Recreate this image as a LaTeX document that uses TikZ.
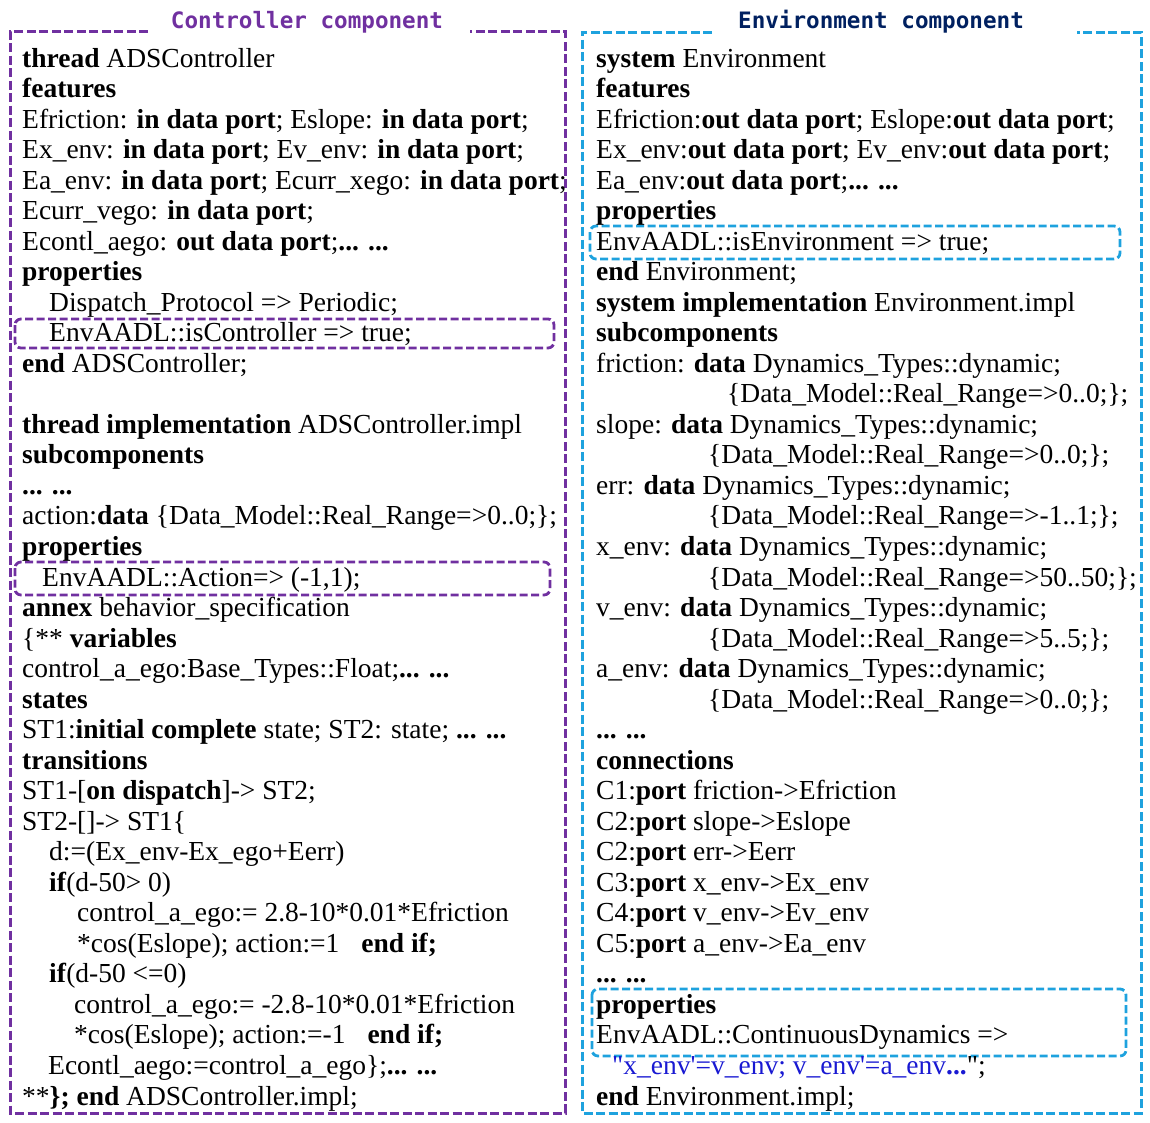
\documentclass[tikz,border=0pt]{standalone}
\usepackage{fontspec}
\setmainfont{Liberation Serif}[Ligatures=TeXOff]
\newfontfamily\titlefont{DejaVu Sans Mono}
\definecolor{cpurple}{RGB}{112,48,160}
\definecolor{cblue}{RGB}{30,162,222}
\definecolor{cnavy}{RGB}{0,32,96}
\definecolor{ctext}{RGB}{25,25,210}
\tikzset{
  code/.style={font=\fontsize{27.5}{30.6}\selectfont, inner sep=0pt, anchor=base west},
  ttl/.style={font=\titlefont\bfseries\fontsize{22.6}{26}\selectfont, inner sep=0pt, anchor=base},
  outerbox/.style={line width=3pt, dash pattern=on 9pt off 3.5pt},
  hibox/.style={line width=2.8pt, dash pattern=on 8pt off 3.5pt, rounded corners=6pt},
}
\newcommand\LY[1]{{67+30.53*(#1-1)}}
\begin{document}
\begin{tikzpicture}[x=1pt,y=-1pt]
\useasboundingbox (0,0) rectangle (1150,1122);
% outer boxes
\draw[outerbox, cpurple] (148,31) -- (10,31) -- (10,1113) -- (565,1113) -- (565,31) -- (470,31);
\draw[outerbox, cblue] (712,32) -- (582,32) -- (582,1113) -- (1141,1113) -- (1141,32) -- (1077,32);
% titles
\node[ttl, text=cpurple] (ctitle) at (307,28) {Controller component};
\node[ttl, text=cnavy] (etitle) at (881,28) {Environment component};
% highlight boxes
\draw[hibox, cpurple] (15,319) rectangle (554,348);
\draw[hibox, cpurple] (15,562) rectangle (550,595);
\draw[hibox, cblue] (590,226) rectangle (1120,259);
\draw[hibox, cblue] (592,989) rectangle (1126,1056);
% left column
\node[code] (l1) at (22,\LY{1}) {\textbf{thread} ADSController};
\node[code] (l2) at (22,\LY{2}) {\textbf{features}};
\node[code] (l3) at (22,\LY{3}) {Efriction: \textbf{in data port}; Eslope: \textbf{in data port};};
\node[code] (l4) at (22,\LY{4}) {Ex\_env: \textbf{in data port}; Ev\_env: \textbf{in data port};};
\node[code] (l5) at (22,\LY{5}) {Ea\_env: \textbf{in data port}; Ecurr\_xego: \textbf{in data port};};
\node[code] (l6) at (22,\LY{6}) {Ecurr\_vego: \textbf{in data port};};
\node[code] (l7) at (22,\LY{7}) {Econtl\_aego: \textbf{out data port};\textbf{... ...}};
\node[code] (l8) at (22,\LY{8}) {\textbf{properties}};
\node[code] (l9) at (49,\LY{9}) {Dispatch\_Protocol => Periodic;};
\node[code] (l10) at (49,\LY{10}) {EnvAADL::isController => true;};
\node[code] (l11) at (22,\LY{11}) {\textbf{end} ADSController;};
\node[code] (l13) at (22,\LY{13}) {\textbf{thread implementation} ADSController.impl};
\node[code] (l14) at (22,\LY{14}) {\textbf{subcomponents}};
\node[code] (l15) at (22,\LY{15}) {\textbf{... ...}};
\node[code] (l16) at (22,\LY{16}) {action:\textbf{data} \{Data\_Model::Real\_Range=>0..0;\};};
\node[code] (l17) at (22,\LY{17}) {\textbf{properties}};
\node[code] (l18) at (42,\LY{18}) {EnvAADL::Action=> (-1,1);};
\node[code] (l19) at (22,\LY{19}) {\textbf{annex} behavior\_specification};
\node[code] (l20) at (22,\LY{20}) {\{** \textbf{variables}};
\node[code] (l21) at (22,\LY{21}) {control\_a\_ego:Base\_Types::Float;\textbf{... ...}};
\node[code] (l22) at (22,\LY{22}) {\textbf{states}};
\node[code] (l23) at (22,\LY{23}) {ST1:\textbf{initial complete} state; ST2: state; \textbf{... ...}};
\node[code] (l24) at (22,\LY{24}) {\textbf{transitions}};
\node[code] (l25) at (22,\LY{25}) {ST1-[\textbf{on dispatch}]-> ST2;};
\node[code] (l26) at (22,\LY{26}) {ST2-[]-> ST1\{};
\node[code] (l27) at (49,\LY{27}) {d:=(Ex\_env-Ex\_ego+Eerr)};
\node[code] (l28) at (49,\LY{28}) {\textbf{if}(d-50> 0)};
\node[code] (l29) at (77,\LY{29}) {control\_a\_ego:= 2.8-10*0.01*Efriction};
\node[code] (l30) at (77,\LY{30}) {*cos(Eslope); action:=1\hspace{22pt}\textbf{end if;}};
\node[code] (l31) at (49,\LY{31}) {\textbf{if}(d-50 <=0)};
\node[code] (l32) at (74,\LY{32}) {control\_a\_ego:= -2.8-10*0.01*Efriction};
\node[code] (l33) at (74,\LY{33}) {*cos(Eslope); action:=-1\hspace{22pt}\textbf{end if;}};
\node[code] (l34) at (48,\LY{34}) {Econtl\_aego:=control\_a\_ego\};\textbf{... ...}};
\node[code] (l35) at (22,\LY{35}) {**\textbf{\};} \textbf{end} ADSController.impl;};
% right column
\node[code] (r1) at (596,\LY{1}) {\textbf{system} Environment};
\node[code] (r2) at (596,\LY{2}) {\textbf{features}};
\node[code] (r3) at (596,\LY{3}) {Efriction:\textbf{out data port}; Eslope:\textbf{out data port};};
\node[code] (r4) at (596,\LY{4}) {Ex\_env:\textbf{out data port}; Ev\_env:\textbf{out data port};};
\node[code] (r5) at (596,\LY{5}) {Ea\_env:\textbf{out data port};\textbf{... ...}};
\node[code] (r6) at (596,\LY{6}) {\textbf{properties}};
\node[code] (r7) at (596,\LY{7}) {EnvAADL::isEnvironment => true;};
\node[code] (r8) at (596,\LY{8}) {\textbf{end} Environment;};
\node[code] (r9) at (596,\LY{9}) {\textbf{system implementation} Environment.impl};
\node[code] (r10) at (596,\LY{10}) {\textbf{subcomponents}};
\node[code] (r11) at (596,\LY{11}) {friction: \textbf{data} Dynamics\_Types::dynamic;};
\node[code] (r12) at (727,\LY{12}) {\{Data\_Model::Real\_Range=>0..0;\};};
\node[code] (r13) at (596,\LY{13}) {slope: \textbf{data} Dynamics\_Types::dynamic;};
\node[code] (r14) at (708,\LY{14}) {\{Data\_Model::Real\_Range=>0..0;\};};
\node[code] (r15) at (596,\LY{15}) {err: \textbf{data} Dynamics\_Types::dynamic;};
\node[code] (r16) at (708,\LY{16}) {\{Data\_Model::Real\_Range=>-1..1;\};};
\node[code] (r17) at (596,\LY{17}) {x\_env: \textbf{data} Dynamics\_Types::dynamic;};
\node[code] (r18) at (708,\LY{18}) {\{Data\_Model::Real\_Range=>50..50;\};};
\node[code] (r19) at (596,\LY{19}) {v\_env: \textbf{data} Dynamics\_Types::dynamic;};
\node[code] (r20) at (708,\LY{20}) {\{Data\_Model::Real\_Range=>5..5;\};};
\node[code] (r21) at (596,\LY{21}) {a\_env: \textbf{data} Dynamics\_Types::dynamic;};
\node[code] (r22) at (708,\LY{22}) {\{Data\_Model::Real\_Range=>0..0;\};};
\node[code] (r23) at (596,\LY{23}) {\textbf{... ...}};
\node[code] (r24) at (596,\LY{24}) {\textbf{connections}};
\node[code] (r25) at (596,\LY{25}) {C1:\textbf{port} friction->Efriction};
\node[code] (r26) at (596,\LY{26}) {C2:\textbf{port} slope->Eslope};
\node[code] (r27) at (596,\LY{27}) {C2:\textbf{port} err->Eerr};
\node[code] (r28) at (596,\LY{28}) {C3:\textbf{port} x\_env->Ex\_env};
\node[code] (r29) at (596,\LY{29}) {C4:\textbf{port} v\_env->Ev\_env};
\node[code] (r30) at (596,\LY{30}) {C5:\textbf{port} a\_env->Ea\_env};
\node[code] (r31) at (596,\LY{31}) {\textbf{... ...}};
\node[code] (r32) at (596,\LY{32}) {\textbf{properties}};
\node[code] (r33) at (596,\LY{33}) {EnvAADL::ContinuousDynamics =>};
\node[code] (r34) at (612,\LY{34}) {\textcolor{ctext}{"x\_env'=v\_env; v\_env'=a\_env\textbf{...}}";};
\node[code] (r35) at (596,\LY{35}) {\textbf{end} Environment.impl;};
\end{tikzpicture}
\end{document}
